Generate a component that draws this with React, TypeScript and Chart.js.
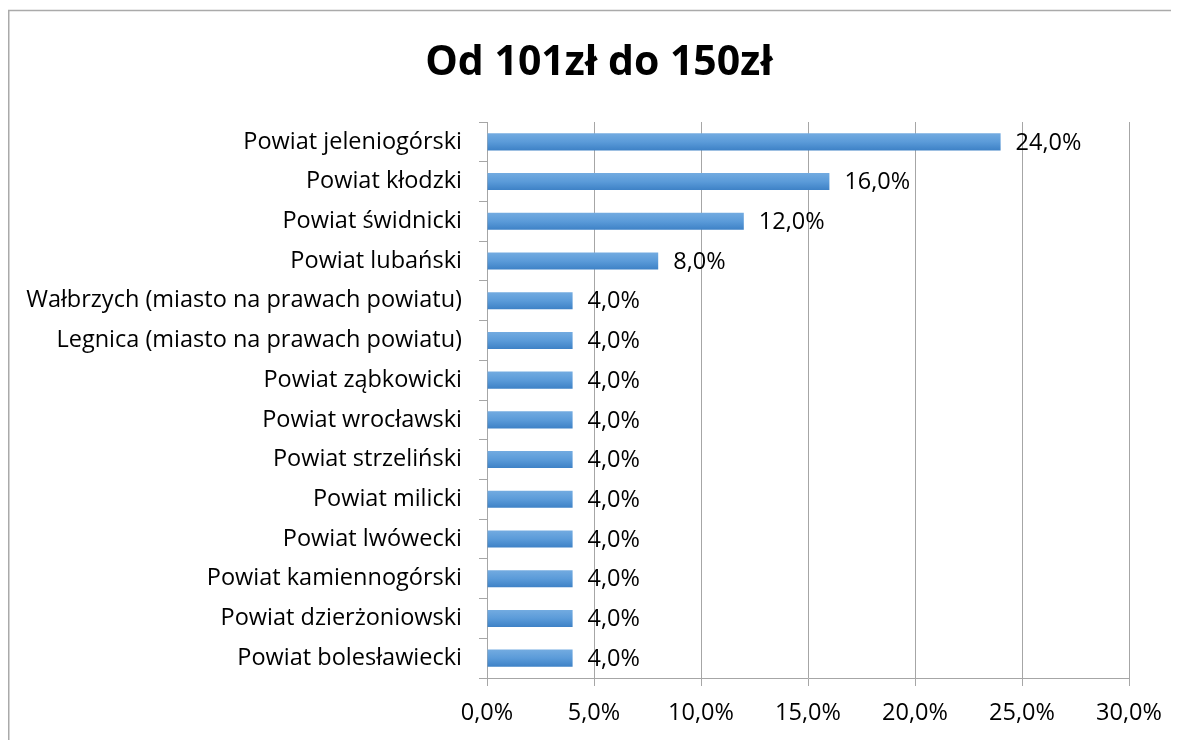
import React, { useEffect, useRef } from "react";
import { Chart, registerables } from "chart.js";

Chart.register(...registerables);

const TITLE = "Od 101zł do 150zł";
const categories = [
  "Powiat jeleniogórski",
  "Powiat kłodzki",
  "Powiat świdnicki",
  "Powiat lubański",
  "Wałbrzych (miasto na prawach powiatu)",
  "Legnica (miasto na prawach powiatu)",
  "Powiat ząbkowicki",
  "Powiat wrocławski",
  "Powiat strzeliński",
  "Powiat milicki",
  "Powiat lwówecki",
  "Powiat kamiennogórski",
  "Powiat dzierżoniowski",
  "Powiat bolesławiecki",
];
const values = [24, 16, 12, 8, 4, 4, 4, 4, 4, 4, 4, 4, 4, 4];
const xTicks = [0, 5, 10, 15, 20, 25, 30];

const FONT = "'Open Sans', Lato, sans-serif";
const GRID = "#a6a6a6";
const FS = 23.5;

const fmt = (v: number) => v.toFixed(1).replace(".", ",") + "%";

export default function App() {
  const ref = useRef<HTMLCanvasElement | null>(null);
  useEffect(() => {
    document.documentElement.style.overflow = "hidden";
    document.body.style.overflow = "hidden";
    const canvas = ref.current!;
    const decor = {
      id: "decor",
      beforeDraw(chart: any) {
        const ctx = chart.ctx;
        ctx.save();
        ctx.fillStyle = "#ffffff";
        ctx.fillRect(0, 0, chart.width, chart.height);
        ctx.strokeStyle = "#aaaaaa";
        ctx.lineWidth = 1.5;
        ctx.beginPath();
        ctx.moveTo(0.75, chart.height);
        ctx.lineTo(0.75, 2.5);
        ctx.lineTo(chart.width, 2.5);
        ctx.stroke();
        ctx.fillStyle = "#000";
        ctx.font = `bold 41px ${FONT}`;
        ctx.textAlign = "center";
        ctx.textBaseline = "alphabetic";
        ctx.fillText(TITLE, 591, 67);
        ctx.restore();
      },
      afterDatasetsDraw(chart: any) {
        const ctx = chart.ctx;
        const meta = chart.getDatasetMeta(0);
        ctx.save();
        ctx.fillStyle = "#000";
        ctx.font = `${FS}px ${FONT}`;
        ctx.textAlign = "left";
        ctx.textBaseline = "middle";
        meta.data.forEach((el: any, i: number) => {
          ctx.fillText(fmt(values[i]), el.x + 15, el.y + 1);
        });
        ctx.restore();
      },
    };
    const chart = new Chart(canvas, {
      type: "bar",
      data: {
        labels: categories,
        datasets: [
          {
            data: values,
            backgroundColor: (c: any) => {
              const ch = c.chart;
              if (!ch.chartArea || !ch.scales.y || c.dataIndex === undefined) return "#5a9ad8";
              const y = ch.scales.y.getPixelForValue(c.dataIndex);
              const g = ch.ctx.createLinearGradient(0, y - 9, 0, y + 9);
              g.addColorStop(0, "#74ace1");
              g.addColorStop(0.5, "#5b9bd9");
              g.addColorStop(1, "#3c80c5");
              return g;
            },
            borderWidth: 0,
            barPercentage: 0.43,
            categoryPercentage: 1,
          },
        ],
      },
      options: {
        indexAxis: "y",
        responsive: false,
        animation: false,
        layout: { padding: { left: 0, top: 114, right: 50, bottom: 0 } },
        plugins: {
          legend: { display: false },
          title: { display: false },
          tooltip: { enabled: false },
        },
        scales: {
          x: {
            min: 0,
            max: 30,
            afterFit: (s: any) => {
              s.height = 62;
            },
            afterBuildTicks: (s: any) => {
              s.ticks = xTicks.map((v) => ({ value: v }));
            },
            grid: { color: GRID, lineWidth: 1, tickLength: 8, drawTicks: true },
            border: { color: GRID, width: 1 },
            ticks: {
              padding: 13,
              color: "#000",
              font: { family: FONT, size: FS },
              maxRotation: 0,
              callback: (v: any) => fmt(Number(v)),
            },
          },
          y: {
            afterFit: (s: any) => {
              s.width = 479;
            },
            grid: { drawOnChartArea: false, color: GRID, tickLength: 8, offset: true },
            border: { color: GRID, width: 1 },
            ticks: {
              padding: 17,
              color: "#000",
              font: { family: FONT, size: FS },
              autoSkip: false,
            },
          },
        },
      },
      plugins: [decor],
    } as any);
    return () => chart.destroy();
  }, []);
  return (
    <div style={{ width: 1171, height: 732 }}>
      <canvas ref={ref} width={1171} height={732} style={{ display: "block" }} />
    </div>
  );
}
